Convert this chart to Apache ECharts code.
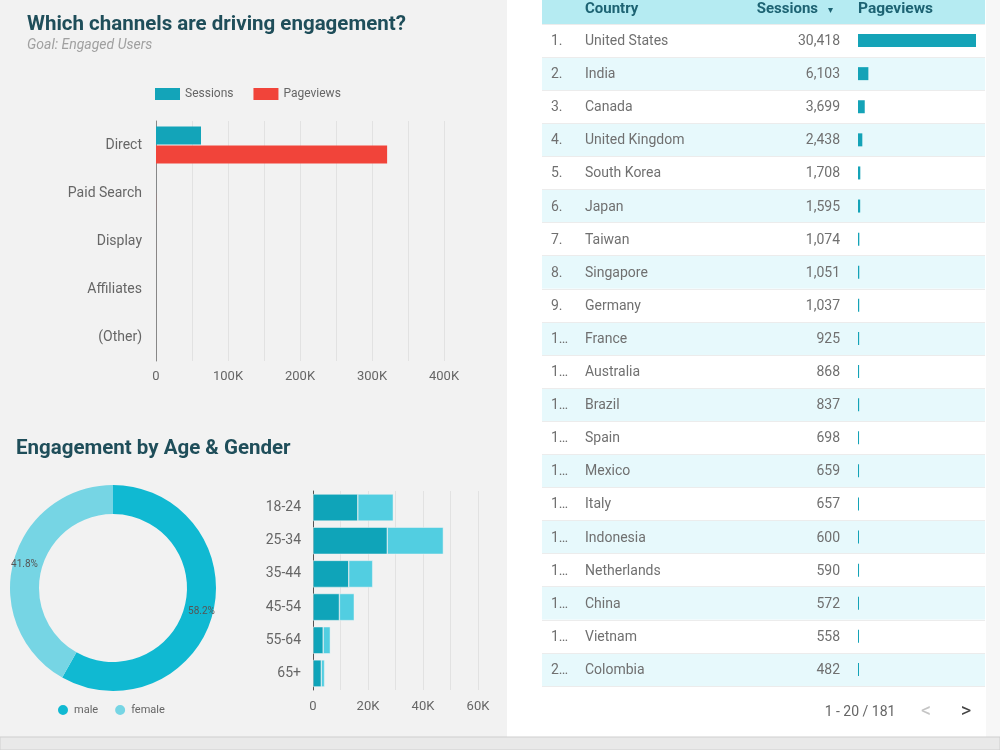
<!DOCTYPE html>
<html>
<head>
<meta charset="utf-8">
<script src="https://cdn.jsdelivr.net/npm/echarts@6/dist/echarts.min.js"></script>
<style>
  body { margin: 0; }
  #main { width: 1000px; height: 750px; }
</style>
</head>
<body>
<div id="main"></div>
<script>
// channels chart
var channels = ['Direct', 'Paid Search', 'Display', 'Affiliates', '(Other)']
var channelSessions = [62500, 30, 12, 6, 4]
var channelPageviews = [321000, 80, 30, 15, 10]

// age & gender
var ageGroups = ['18-24', '25-34', '35-44', '45-54', '55-64', '65+']
var maleSessions = [16300, 27000, 13000, 9600, 3700, 3000]
var femaleSessions = [12900, 20400, 8700, 5400, 2600, 1200]
var genders = ['male', 'female']
var genderSessions = [71600, 51400]

// country table
var countries = ['United States', 'India', 'Canada', 'United Kingdom', 'South Korea', 'Japan', 'Taiwan',
  'Singapore', 'Germany', 'France', 'Australia', 'Brazil', 'Spain', 'Mexico', 'Italy', 'Indonesia',
  'Netherlands', 'China', 'Vietnam', 'Colombia']
var countrySessions = [30418, 6103, 3699, 2438, 1708, 1595, 1074, 1051, 1037, 925, 868, 837, 698, 659,
  657, 600, 590, 572, 558, 482]
var countryPageviews = [205000, 18000, 11700, 7500, 4000, 3800, 2300, 2200, 2100, 2000, 1900, 2000,
  1800, 1800, 1700, 1700, 1800, 1700, 1600, 1500]
var totalCountries = 181

var font = 'Roboto'
var teal = '#1f4e5a'

function kLabel(v) {
  return v === 0 ? '0' : (v / 1000) + 'K'
}

function rankLabel(i) {
  var s = (i + 1) + '.'
  return s.length > 2 ? s.charAt(0) + '…' : s
}

var chart = echarts.init(document.getElementById('main'))

var option = {
  textStyle: { fontFamily: font },
  animation: false,
  graphic: [
    { type: 'rect', silent: true, z: -10, shape: { x: 0, y: 0, width: 1000, height: 750 }, style: { fill: '#f7f7f7' } },
    { type: 'rect', silent: true, z: -9, shape: { x: 0, y: 0, width: 507, height: 737 }, style: { fill: '#f2f2f2' } },
    { type: 'rect', silent: true, z: -9, shape: { x: 507, y: 0, width: 479, height: 737 }, style: { fill: '#ffffff' } },
    { type: 'rect', silent: true, z: -9, shape: { x: 0, y: 737, width: 1000, height: 13 }, style: { fill: '#e9e9e9', stroke: '#cfcfcf', lineWidth: 1 } },
    // table header
    { type: 'rect', silent: true, z: -5, shape: { x: 542, y: 0, width: 443, height: 24 }, style: { fill: '#b5ebf2' } },
    { type: 'text', x: 585, y: 9, style: { text: 'Country', font: 'bold 15px ' + font, fill: '#1d6373', verticalAlign: 'middle' } },
    { type: 'text', x: 818, y: 9, style: { text: 'Sessions', font: 'bold 15px ' + font, fill: '#1d6373', align: 'right', verticalAlign: 'middle' } },
    { type: 'text', x: 830, y: 10, style: { text: '▾', font: '10px ' + font, fill: '#1d6373', align: 'center', verticalAlign: 'middle' } },
    { type: 'text', x: 858, y: 9, style: { text: 'Pageviews', font: 'bold 15.5px ' + font, fill: '#1d6373', verticalAlign: 'middle' } },
    // pagination
    { type: 'text', x: 860, y: 712, style: { text: '1 - ' + countries.length + ' / ' + totalCountries, font: '14px ' + font, fill: '#666', align: 'center', verticalAlign: 'middle' } },
    { type: 'text', x: 926, y: 712, style: { text: '<', font: '20px ' + font, fill: '#c4c4c4', align: 'center', verticalAlign: 'middle' } },
    { type: 'text', x: 966, y: 712, style: { text: '>', font: '20px ' + font, fill: '#444', align: 'center', verticalAlign: 'middle' } }
  ],
  title: [
    {
      text: 'Which channels are driving engagement?',
      subtext: 'Goal: Engaged Users',
      left: 27, top: 14, padding: 0, itemGap: 3,
      textStyle: { fontSize: 20.5, fontWeight: 'bold', color: teal, fontFamily: font },
      subtextStyle: { fontSize: 14, fontStyle: 'italic', color: '#a0a0a0', fontFamily: font }
    },
    {
      text: 'Engagement by Age & Gender',
      left: 16, top: 438, padding: 0,
      textStyle: { fontSize: 20.5, fontWeight: 'bold', color: teal, fontFamily: font }
    }
  ],
  legend: [
    {
      data: ['Sessions', 'Pageviews'],
      left: 155, top: 88, padding: 0,
      icon: 'rect', itemWidth: 25, itemHeight: 12, itemGap: 20,
      textStyle: { color: '#666', fontSize: 12 }
    },
    {
      data: [
        { name: 'male', itemStyle: { color: '#10b9d2' } },
        { name: 'female', itemStyle: { color: '#76d5e4' } }
      ],
      left: 56, top: 703, padding: 0,
      icon: 'circle', itemWidth: 12, itemHeight: 12, itemGap: 15,
      textStyle: { color: '#666', fontSize: 11 }
    }
  ],
  grid: [
    { left: 156, top: 121, width: 288, height: 240 },
    { left: 313, top: 491, width: 165, height: 199 },
    { left: 542, top: 24, width: 443, height: 662 },
    { left: 858, top: 24, width: 118, height: 662 }
  ],
  xAxis: [
    {
      gridIndex: 0, type: 'value', min: 0, max: 400000, interval: 100000,
      axisLine: { show: false }, axisTick: { show: false },
      axisLabel: { formatter: kLabel, color: '#666', fontSize: 13, margin: 9 },
      splitLine: { lineStyle: { color: '#e2e2e2' } },
      minorTick: { show: false, splitNumber: 2 },
      minorSplitLine: { show: true, lineStyle: { color: '#e2e2e2' } }
    },
    {
      gridIndex: 1, type: 'value', min: 0, max: 60000, interval: 20000,
      axisLine: { show: false }, axisTick: { show: false },
      axisLabel: { formatter: kLabel, color: '#666', fontSize: 13, margin: 10 },
      splitLine: { lineStyle: { color: '#e2e2e2' } },
      minorTick: { show: false, splitNumber: 2 },
      minorSplitLine: { show: true, lineStyle: { color: '#e2e2e2' } }
    },
    { gridIndex: 2, type: 'value', show: false },
    { gridIndex: 3, type: 'value', min: 0, max: countryPageviews[0], show: false }
  ],
  yAxis: [
    {
      gridIndex: 0, type: 'category', data: channels, inverse: true,
      axisLine: { lineStyle: { color: '#888' } }, axisTick: { show: false },
      axisLabel: { color: '#666', fontSize: 14, margin: 14 }
    },
    {
      gridIndex: 1, type: 'category', data: ageGroups, inverse: true,
      axisLine: { lineStyle: { color: '#555' } }, axisTick: { show: false },
      axisLabel: { color: '#666', fontSize: 14, margin: 12 }
    },
    {
      gridIndex: 2, type: 'category', data: countries, inverse: true,
      axisLine: { show: false }, axisTick: { show: false },
      splitLine: { show: true, lineStyle: { color: '#ececec' } },
      splitArea: { show: true, areaStyle: { color: ['#ffffff', '#e7f9fc'] } },
      axisLabel: {
        inside: true, interval: 0, margin: 9,
        formatter: function (name, i) {
          return '{r|' + rankLabel(i) + '}{c|' + name + '}{s|' + countrySessions[i].toLocaleString('en-US') + '}'
        },
        rich: {
          r: { width: 34, fontSize: 14, color: '#707070', padding: [2, 0, 0, 0] },
          c: { width: 200, fontSize: 14, color: '#707070', padding: [2, 0, 0, 0] },
          s: { width: 55, align: 'right', fontSize: 14, color: '#707070', padding: [2, 0, 0, 0] }
        }
      }
    },
    { gridIndex: 3, type: 'category', data: countries, inverse: true, show: false }
  ],
  series: [
    {
      name: 'Sessions', type: 'bar', xAxisIndex: 0, yAxisIndex: 0,
      data: channelSessions, barWidth: 18, barGap: '5%',
      itemStyle: { color: '#13a4b9' }
    },
    {
      name: 'Pageviews', type: 'bar', xAxisIndex: 0, yAxisIndex: 0,
      data: channelPageviews, barWidth: 18, barGap: '5%',
      itemStyle: { color: '#f1443a' }
    },
    {
      name: 'Gender', type: 'pie',
      center: [113, 588], radius: [74, 103],
      startAngle: 90, clockwise: true, percentPrecision: 1,
      data: genders.map(function (g, i) {
        return { name: g, value: genderSessions[i] }
      }),
      color: ['#10b9d2', '#76d5e4'],
      label: { position: 'inside', formatter: '{d}%', fontSize: 10, color: '#555' },
      labelLine: { show: false }
    },
    {
      name: 'male', type: 'bar', stack: 'age', xAxisIndex: 1, yAxisIndex: 1,
      data: maleSessions, barWidth: 27,
      itemStyle: { color: '#0fa4b9', borderColor: '#f2f2f2', borderWidth: 0.5 }
    },
    {
      name: 'female', type: 'bar', stack: 'age', xAxisIndex: 1, yAxisIndex: 1,
      data: femaleSessions, barWidth: 27,
      itemStyle: { color: '#52cee1', borderColor: '#f2f2f2', borderWidth: 0.5 }
    },
    {
      name: 'Country pageviews', type: 'bar', xAxisIndex: 3, yAxisIndex: 3,
      data: countryPageviews, barWidth: 13, barMinHeight: 1,
      itemStyle: { color: '#14a3b7' }
    }
  ]
}

chart.setOption(option)
</script>
</body>
</html>
